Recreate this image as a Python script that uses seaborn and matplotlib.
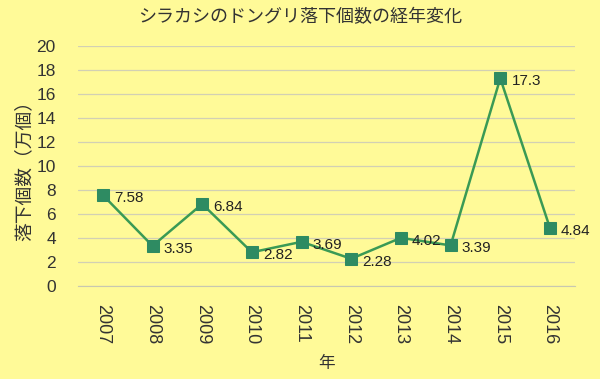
import pandas as pd
import seaborn as sns
import matplotlib.pyplot as plt
from matplotlib.ticker import FixedLocator

# データ
years = ["2007", "2008", "2009", "2010", "2011", "2012", "2013", "2014", "2015", "2016"]
acorns = [7.58, 3.35, 6.84, 2.82, 3.69, 2.28, 4.02, 3.39, 17.3, 4.84]
labels = ["7.58", "3.35", "6.84", "2.82", "3.69", "2.28", "4.02", "3.39", "17.3", "4.84"]

df = pd.DataFrame({"year": years, "count": acorns})

sns.set_style("white")
plt.rcParams["font.family"] = ["Liberation Sans", "Noto Sans CJK JP", "DejaVu Sans"]

bg = "#FFFA98"
fig = plt.figure(figsize=(6, 3.79), dpi=100, facecolor=bg)
ax = fig.add_axes([0.13, 0.245, 0.828, 0.634])
ax.set_facecolor(bg)

sns.lineplot(data=df, x="year", y="count", ax=ax, color="#3A9A55", linewidth=1.8,
             marker="s", markersize=8.8, markerfacecolor="#2E8B62",
             markeredgecolor="#2E8B62", zorder=3)

for i, (v, t) in enumerate(zip(acorns, labels)):
    ax.annotate(t, (i, v), xytext=(8, -2), textcoords="offset points",
                ha="left", va="center", fontsize=11, color="#222222", zorder=4)

ax.set_ylim(0, 20)
ax.set_yticks(range(0, 21, 2))
ax.set_xlim(-0.5, len(years) - 0.5)
ax.set_xticks(range(len(years)))
ax.set_xticklabels(years, rotation=-90)
ax.xaxis.set_minor_locator(FixedLocator([i - 0.5 for i in range(len(years) + 1)]))
ax.tick_params(axis="x", which="major", length=0, pad=13, labelsize=13, colors="#333333")
ax.tick_params(axis="x", which="minor", length=5, color="#C8C8B0", width=1)
ax.tick_params(axis="y", length=0, labelsize=12.5, colors="#333333", pad=16)

ax.grid(axis="y", color="#D2D0B4", linewidth=0.9)
ax.set_axisbelow(True)
for side in ["top", "right", "left"]:
    ax.spines[side].set_visible(False)
ax.spines["bottom"].set_color("#C8C8B0")

ax.set_xlabel("年", fontsize=12, color="#333333", labelpad=8)
ax.set_ylabel("落下個数（万個）", fontsize=13.5, color="#333333", labelpad=2)
fig.text(0.5, 0.955, "シラカシのドングリ落下個数の経年変化", ha="center", va="center",
         fontsize=13, color="#333333")

fig.savefig("out.png", dpi=100, facecolor=bg)
